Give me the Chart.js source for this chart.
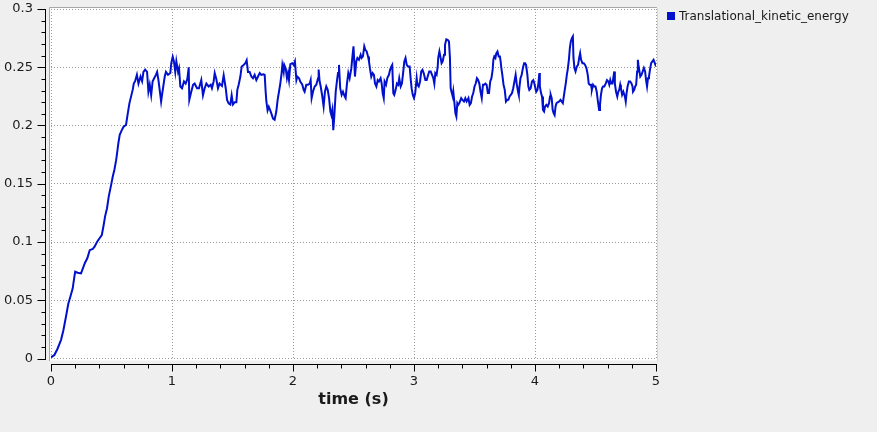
<!DOCTYPE html>
<html>
<head>
<meta charset="utf-8">
<script src="https://cdn.jsdelivr.net/npm/chart.js@4"></script>
<style>
  html, body { margin: 0; padding: 0; background: #efefef; }
  #wrap { width: 877px; height: 432px; position: relative; }
</style>
</head>
<body>
<div id="wrap"><canvas id="c"></canvas></div>
<script>
const seriesName = 'Translational_kinetic_energy';
const xTitle = 'time (s)';
const xTickLabels = ['0', '1', '2', '3', '4', '5'];
const yTickLabels = ['0', '0.05', '0.1', '0.15', '0.2', '0.25', '0.3'];

const timeS = [
0,0.028,0.055,0.083,0.102,0.124,0.143,0.16,0.179,0.193,0.2,0.22,0.248,0.262,0.28,0.3,0.32,0.345,0.36,0.38,
0.4,0.42,0.436,0.447,0.463,0.477,0.497,0.51,0.524,0.538,0.546,0.557,0.568,0.585,0.6,0.62,0.634,0.648,0.662,0.676,
0.684,0.695,0.71,0.723,0.74,0.753,0.764,0.778,0.794,0.805,0.816,0.828,0.84,0.855,0.868,0.877,0.888,0.9,0.91,0.92,
0.94,0.95,0.967,0.986,0.994,1.006,1.016,1.027,1.036,1.05,1.058,1.069,1.083,1.099,1.113,1.127,1.138,1.143,1.157,1.174,
1.187,1.207,1.223,1.242,1.256,1.27,1.284,1.303,1.32,1.33,1.344,1.353,1.366,1.38,1.393,1.413,1.427,1.444,1.455,1.468,
1.482,1.493,1.504,1.518,1.532,1.54,1.551,1.565,1.576,1.592,1.606,1.617,1.628,1.642,1.656,1.669,1.683,1.697,1.711,1.725,
1.738,1.757,1.766,1.774,1.78,1.79,1.8,1.812,1.82,1.835,1.848,1.862,1.873,1.884,1.895,1.906,1.912,1.923,1.928,1.94,
1.95,1.959,1.967,1.978,1.994,2.006,2.016,2.028,2.036,2.05,2.06,2.077,2.088,2.096,2.11,2.124,2.138,2.146,2.154,2.165,
2.179,2.193,2.207,2.212,2.22,2.229,2.242,2.253,2.264,2.275,2.287,2.298,2.309,2.317,2.325,2.333,2.342,2.353,2.364,2.372,
2.38,2.39,2.402,2.413,2.427,2.435,2.446,2.457,2.468,2.482,2.49,2.5,2.512,2.523,2.532,2.545,2.559,2.567,2.578,2.589,
2.598,2.609,2.62,2.628,2.636,2.647,2.658,2.669,2.678,2.689,2.7,2.71,2.724,2.733,2.741,2.75,2.757,2.769,2.78,2.793,
2.802,2.813,2.82,2.829,2.837,2.848,2.859,2.87,2.878,2.89,2.9,2.91,2.92,2.93,2.94,2.95,2.964,2.972,2.98,2.99,
3.0,3.01,3.022,3.028,3.039,3.05,3.06,3.07,3.08,3.094,3.105,3.113,3.126,3.138,3.149,3.16,3.168,3.176,3.187,3.196,
3.2,3.21,3.22,3.228,3.237,3.248,3.256,3.267,3.278,3.289,3.297,3.303,3.31,3.32,3.325,3.333,3.342,3.35,3.358,3.366,
3.375,3.39,3.4,3.413,3.424,3.435,3.45,3.46,3.47,3.48,3.49,3.5,3.51,3.52,3.53,3.54,3.55,3.56,3.57,3.58,
3.59,3.6,3.61,3.62,3.63,3.64,3.65,3.656,3.664,3.673,3.68,3.69,3.7,3.71,3.716,3.722,3.73,3.74,3.75,3.76,
3.77,3.78,3.79,3.8,3.81,3.82,3.83,3.84,3.85,3.86,3.866,3.872,3.88,3.89,3.9,3.91,3.918,3.926,3.937,3.945,
3.953,3.964,3.975,3.986,3.995,4.003,4.01,4.02,4.028,4.036,4.04,4.05,4.058,4.066,4.075,4.083,4.094,4.105,4.116,4.124,
4.13,4.138,4.146,4.154,4.162,4.17,4.178,4.19,4.2,4.211,4.22,4.23,4.238,4.246,4.254,4.263,4.27,4.28,4.288,4.296,
4.305,4.313,4.318,4.326,4.335,4.346,4.356,4.365,4.373,4.381,4.392,4.403,4.414,4.425,4.436,4.444,4.452,4.463,4.47,4.48,
4.49,4.5,4.51,4.52,4.53,4.537,4.545,4.554,4.562,4.573,4.584,4.595,4.606,4.614,4.622,4.63,4.64,4.647,4.655,4.66,
4.67,4.68,4.688,4.696,4.704,4.71,4.72,4.73,4.743,4.75,4.757,4.765,4.776,4.787,4.798,4.806,4.81,4.82,4.828,4.836,
4.844,4.85,4.855,4.863,4.87,4.88,4.89,4.9,4.91,4.918,4.926,4.934,4.942,4.95,4.96,4.97,4.98,4.99,5.0
];

const kineticEnergy = [
0.001,0.003,0.0086,0.016,0.024,0.036,0.047,0.053,0.06,0.07,0.0745,0.0736,0.073,0.077,0.082,0.086,0.093,0.094,0.096,0.1,
0.103,0.106,0.115,0.122,0.129,0.139,0.149,0.156,0.162,0.17,0.176,0.185,0.192,0.196,0.199,0.2005,0.21,0.219,0.225,0.231,
0.236,0.238,0.2436,0.236,0.242,0.238,0.246,0.248,0.246,0.229,0.235,0.226,0.238,0.241,0.2436,0.246,0.239,0.229,0.2206,0.228,
0.242,0.246,0.2435,0.245,0.2535,0.259,0.255,0.246,0.255,0.246,0.249,0.2335,0.232,0.2378,0.236,0.24,0.25,0.222,0.228,0.235,
0.236,0.232,0.232,0.239,0.226,0.232,0.236,0.2335,0.235,0.232,0.2378,0.245,0.24,0.232,0.236,0.234,0.243,0.232,0.222,0.219,
0.218,0.226,0.218,0.22,0.22,0.2306,0.235,0.242,0.2507,0.252,0.2535,0.256,0.246,0.246,0.242,0.2406,0.2435,0.239,0.2421,0.245,
0.2435,0.244,0.2435,0.229,0.2206,0.213,0.216,0.213,0.2106,0.206,0.205,0.212,0.222,0.229,0.236,0.245,0.252,0.246,0.252,0.249,
0.2406,0.245,0.239,0.2527,0.2535,0.252,0.255,0.239,0.242,0.2406,0.2378,0.235,0.2306,0.229,0.235,0.235,0.236,0.239,0.2235,0.229,
0.2335,0.235,0.2406,0.248,0.2378,0.2335,0.225,0.2163,0.229,0.2335,0.2306,0.2235,0.212,0.209,0.2134,0.196,0.209,0.229,0.239,0.245,
0.252,0.232,0.2263,0.229,0.225,0.2235,0.236,0.245,0.2406,0.249,0.258,0.268,0.242,0.255,0.258,0.2564,0.2607,0.258,0.2593,0.268,
0.265,0.2636,0.2593,0.255,0.249,0.242,0.245,0.2435,0.236,0.2335,0.239,0.2378,0.2406,0.236,0.2278,0.2235,0.2378,0.235,0.241,0.2435,
0.2478,0.2507,0.252,0.2278,0.2263,0.2306,0.236,0.2349,0.2406,0.2335,0.236,0.245,0.255,0.258,0.252,0.2507,0.2507,0.2406,0.232,0.2263,
0.2235,0.2278,0.2406,0.235,0.2335,0.2378,0.2464,0.2478,0.245,0.239,0.239,0.242,0.2464,0.2464,0.2435,0.2406,0.236,0.245,0.2435,0.2507,
0.258,0.2636,0.258,0.2535,0.255,0.2607,0.269,0.274,0.2736,0.2722,0.258,0.232,0.229,0.2249,0.229,0.2206,0.2106,0.2077,0.2192,0.2177,
0.2192,0.2235,0.222,0.2206,0.2235,0.2206,0.2235,0.2177,0.2192,0.2249,0.2278,0.2335,0.236,0.2406,0.239,0.236,0.229,0.2235,0.235,0.235,
0.236,0.235,0.2278,0.2278,0.2378,0.2406,0.2478,0.2564,0.2593,0.258,0.262,0.2636,0.2593,0.2593,0.255,0.2493,0.2435,0.235,0.2306,0.2206,
0.222,0.222,0.2249,0.2263,0.2278,0.232,0.2378,0.2435,0.235,0.229,0.2263,0.2335,0.2406,0.2435,0.2493,0.2535,0.2535,0.252,0.2435,0.2335,
0.2306,0.232,0.2378,0.239,0.236,0.232,0.229,0.2306,0.236,0.245,0.2335,0.2278,0.2249,0.2134,0.212,0.2163,0.2177,0.2163,0.2192,0.2249,
0.2263,0.2235,0.2134,0.2106,0.209,0.2163,0.2192,0.22,0.2206,0.222,0.2206,0.2192,0.2249,0.2306,0.236,0.2435,0.2478,0.2564,0.2665,0.2722,
0.275,0.2765,0.258,0.2493,0.2464,0.2507,0.252,0.258,0.262,0.2564,0.2535,0.2535,0.252,0.2493,0.2435,0.236,0.235,0.235,0.2306,0.235,
0.2335,0.2335,0.229,0.2206,0.2134,0.2177,0.2263,0.232,0.2335,0.2335,0.236,0.239,0.2378,0.235,0.239,0.236,0.236,0.2406,0.2464,0.236,
0.229,0.2249,0.229,0.2306,0.235,0.232,0.2263,0.229,0.2249,0.2206,0.2278,0.2335,0.2378,0.2378,0.236,0.2335,0.229,0.2306,0.2335,0.235,
0.2464,0.2564,0.252,0.2464,0.242,0.2435,0.2464,0.2493,0.2464,0.239,0.2335,0.2406,0.242,0.2478,0.2535,0.255,0.2564,0.2535,0.2507
];

const lineColor = 'rgb(0,16,204)';
const gridColor = '#9a9a9a';
const textColor = '#1a1a1a';
const FONT = "'DejaVu Sans', sans-serif";

const framePlugin = {
  id: 'frame',
  beforeDraw(chart) {
    const {ctx, chartArea: a} = chart;
    ctx.save();
    ctx.fillStyle = '#ffffff';
    ctx.fillRect(a.left - 2, a.top - 2, a.right - a.left + 3, a.bottom - a.top + 4);
    ctx.strokeStyle = '#a8a8a8';
    ctx.lineWidth = 1;
    ctx.beginPath();
    ctx.moveTo(Math.round(a.left) - 1.5, Math.round(a.bottom) + 2);
    ctx.lineTo(Math.round(a.left) - 1.5, Math.round(a.top) - 1.5);
    ctx.lineTo(Math.round(a.right) + 1, Math.round(a.top) - 1.5);
    ctx.stroke();
    ctx.strokeStyle = '#d6d6d6';
    ctx.beginPath();
    ctx.moveTo(Math.round(a.right) + 1.5, Math.round(a.top) - 1);
    ctx.lineTo(Math.round(a.right) + 1.5, Math.round(a.bottom) + 2);
    ctx.stroke();
    ctx.restore();
  },
  afterDraw(chart) {
    const {ctx, chartArea: a, scales} = chart;
    const xs = scales.x, ys = scales.y;
    ctx.save();
    ctx.strokeStyle = '#000';
    ctx.lineWidth = 1;
    // y axis line + ticks
    const ax = Math.round(a.left) - 5.5;
    ctx.beginPath();
    ctx.moveTo(ax, Math.round(ys.getPixelForValue(0.3)));
    ctx.lineTo(ax, Math.round(ys.getPixelForValue(0)) + 1);
    for (let i = 0; i <= 30; i++) {
      const v = i / 100;
      const py = Math.round(ys.getPixelForValue(v)) + 0.5;
      const len = (i % 5 === 0) ? 8 : 4;
      ctx.moveTo(ax, py);
      ctx.lineTo(ax - len, py);
    }
    ctx.stroke();
    // x axis line + ticks
    const ay = Math.round(a.bottom) + 5.5;
    ctx.beginPath();
    ctx.moveTo(Math.round(xs.getPixelForValue(0)), ay);
    ctx.lineTo(Math.round(xs.getPixelForValue(5)) + 1, ay);
    for (let i = 0; i <= 25; i++) {
      const v = i / 5;
      const px = Math.round(xs.getPixelForValue(v)) + 0.5;
      const len = (i % 5 === 0) ? 7 : 4;
      ctx.moveTo(px, ay);
      ctx.lineTo(px, ay + len);
    }
    ctx.stroke();
    // legend
    const ds = chart.data.datasets[0];
    const lx = Math.round(a.right) + 11;
    ctx.fillStyle = ds.borderColor;
    ctx.fillRect(lx, 12, 8, 8);
    ctx.fillStyle = textColor;
    ctx.font = "12px " + FONT;
    ctx.textBaseline = 'middle';
    ctx.textAlign = 'left';
    ctx.fillText(ds.label, lx + 12, 16.5);
    ctx.restore();
  }
};

const points = timeS.map((t, i) => ({x: t, y: kineticEnergy[i]}));

new Chart(document.getElementById('c'), {
  type: 'line',
  data: {
    datasets: [{
      label: seriesName,
      data: points,
      borderColor: lineColor,
      backgroundColor: lineColor,
      borderWidth: 2,
      pointRadius: 0,
      tension: 0,
      fill: false
    }]
  },
  options: {
    responsive: true,
    maintainAspectRatio: false,
    animation: false,
    events: [],
    layout: { padding: { left: 0, right: 221, top: 9, bottom: 0 } },
    plugins: { legend: { display: false }, tooltip: { enabled: false } },
    scales: {
      x: {
        type: 'linear', min: 0, max: 5,
        afterFit(s) { s.height = 73.5; s.paddingLeft = 0; s.paddingRight = 0; },
        ticks: {
          stepSize: 1, padding: 15, color: textColor, maxRotation: 0,
          font: { family: FONT, size: 13 },
          callback: (v, i) => xTickLabels[i]
        },
        grid: { color: gridColor, lineWidth: 1, drawTicks: false },
        border: { display: false, dash: [1, 2] },
        title: {
          display: true, text: xTitle, color: textColor,
          font: { family: FONT, size: 16, weight: 'bold' },
          padding: { top: 0, bottom: 23 }
        }
      },
      y: {
        type: 'linear', min: 0, max: 0.3,
        afterFit(s) { s.width = 51; s.paddingTop = 0; s.paddingBottom = 0; },
        ticks: {
          stepSize: 0.05, padding: 18, color: textColor,
          font: { family: FONT, size: 13 },
          callback: (v, i) => yTickLabels[i]
        },
        grid: { color: gridColor, lineWidth: 1, drawTicks: false },
        border: { display: false, dash: [1, 2] }
      }
    }
  },
  plugins: [framePlugin]
});
</script>
</body>
</html>
